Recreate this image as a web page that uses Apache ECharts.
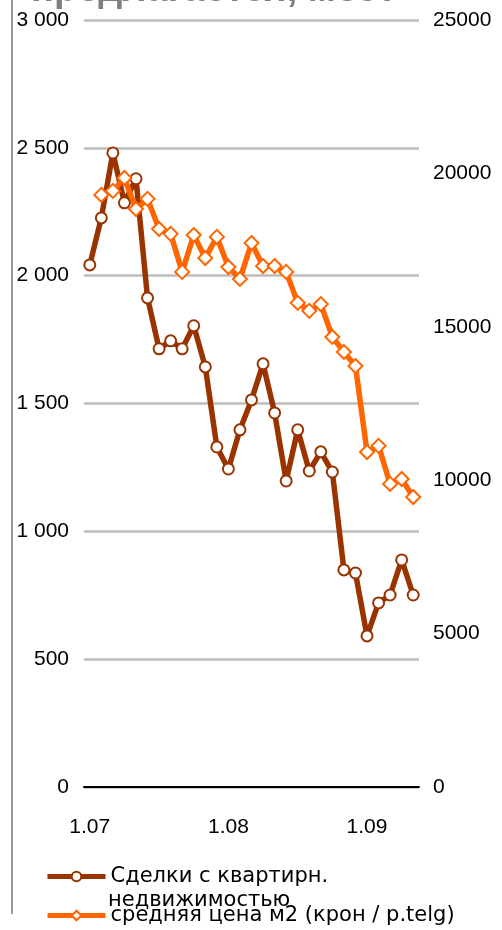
<!DOCTYPE html>
<html>
<head>
<meta charset="utf-8">
<script src="https://cdn.jsdelivr.net/npm/echarts@6/dist/echarts.min.js"></script>
<style>
  html, body { margin: 0; padding: 0; background: #fff; }
  #chart { width: 502px; height: 930px; }
</style>
</head>
<body>
<div id="chart"></div>
<script>
// category labels (only every 12th is shown on the axis)
const categories = [
  '1.07', '3.07', '6.07', '8.07', '11.07', '13.07', '16.07', '18.07', '21.07', '23.07', '26.07', '28.07',
  '1.08', '3.08', '6.08', '8.08', '11.08', '13.08', '16.08', '18.08', '21.08', '23.08', '26.08', '28.08',
  '1.09', '3.09', '6.09', '8.09', '11.09'
];

// deals with apartments (left axis)
const deals = [
  2042, 2226, 2480, 2285, 2379, 1913, 1714, 1745, 1714, 1804,
  1643, 1330, 1244, 1397, 1514, 1655, 1463, 1197, 1397, 1236,
  1311, 1232, 849, 837, 591, 720, 751, 888, 751
];

// average price per m2 (right axis), first value missing
const pricePerM2 = [
  null, 19300, 19430, 19850, 18840, 19170, 18190, 18030, 16790, 17990,
  17240, 17930, 16950, 16560, 17730, 16980, 16980, 16790, 15780, 15520,
  15740, 14670, 14180, 13720, 10920, 11120, 9880, 10040, 9450
];

const leftTicks = { min: 0, max: 3000, interval: 500 };
const rightTicks = { min: 0, max: 25000, interval: 5000 };

const dealsName = 'Сделки с квартирн.';
const priceName = 'средняя цена м2 (крон / p.telg)';

const chart = echarts.init(document.getElementById('chart'));

const labelFont = { color: '#000', fontFamily: 'Liberation Sans', fontSize: 21 };
const legendFont = { color: '#000', fontFamily: 'DejaVu Sans', fontSize: 21 };

chart.setOption({
  animation: false,
  title: {
    text: 'предлагается, мест',
    left: 26,
    top: -33,
    textStyle: { color: '#7f7f7f', fontFamily: 'Liberation Sans', fontWeight: 'bold', fontSize: 38 }
  },
  grid: { left: 84, right: 83, top: 20, bottom: 143 },
  legend: [{
    data: [dealsName],
    left: 45,
    top: 866,
    padding: 0,
    itemWidth: 58,
    itemHeight: 12,
    itemGap: 0,
    lineStyle: { width: 5 },
    textStyle: legendFont
  }, {
    data: [priceName],
    left: 45,
    top: 905,
    padding: 0,
    itemWidth: 58,
    itemHeight: 12,
    itemGap: 0,
    lineStyle: { width: 5 },
    textStyle: legendFont
  }],
  graphic: [{
    type: 'line',
    shape: { x1: 12, y1: 0, x2: 12, y2: 914 },
    style: { stroke: '#999', lineWidth: 2 }
  }, {
    type: 'text',
    left: 108,
    top: 890,
    style: { text: 'недвижимостью', fill: '#000', font: '21px "DejaVu Sans"' }
  }],
  xAxis: {
    type: 'category',
    data: categories,
    boundaryGap: true,
    axisLine: { lineStyle: { color: '#000', width: 2 } },
    axisTick: { show: false },
    axisLabel: Object.assign({ interval: 11, margin: 30 }, labelFont),
    splitLine: { show: false }
  },
  yAxis: [{
    type: 'value',
    min: leftTicks.min,
    max: leftTicks.max,
    interval: leftTicks.interval,
    axisLine: { show: false },
    axisTick: { show: false },
    axisLabel: Object.assign({
      margin: 15,
      formatter: v => String(v).replace(/\B(?=(\d{3})+(?!\d))/g, ' ')
    }, labelFont),
    splitLine: { lineStyle: { color: '#bdbdbd', width: 2.5 } }
  }, {
    type: 'value',
    min: rightTicks.min,
    max: rightTicks.max,
    interval: rightTicks.interval,
    position: 'right',
    axisLine: { show: false },
    axisTick: { show: false },
    axisLabel: Object.assign({ margin: 14, formatter: v => String(v) }, labelFont),
    splitLine: { show: false }
  }],
  series: [{
    name: dealsName,
    type: 'line',
    yAxisIndex: 0,
    data: deals,
    color: '#993300',
    symbol: 'circle',
    symbolSize: 11,
    showAllSymbol: true,
    lineStyle: { color: '#993300', width: 5.5 },
    itemStyle: { color: '#fff', borderColor: '#993300', borderWidth: 2 }
  }, {
    name: priceName,
    type: 'line',
    yAxisIndex: 1,
    data: pricePerM2,
    color: '#ff6600',
    symbol: 'diamond',
    symbolSize: 14,
    showAllSymbol: true,
    lineStyle: { color: '#ff6600', width: 5.5 },
    itemStyle: { color: '#fff', borderColor: '#ff6600', borderWidth: 2 }
  }]
});
</script>
</body>
</html>
